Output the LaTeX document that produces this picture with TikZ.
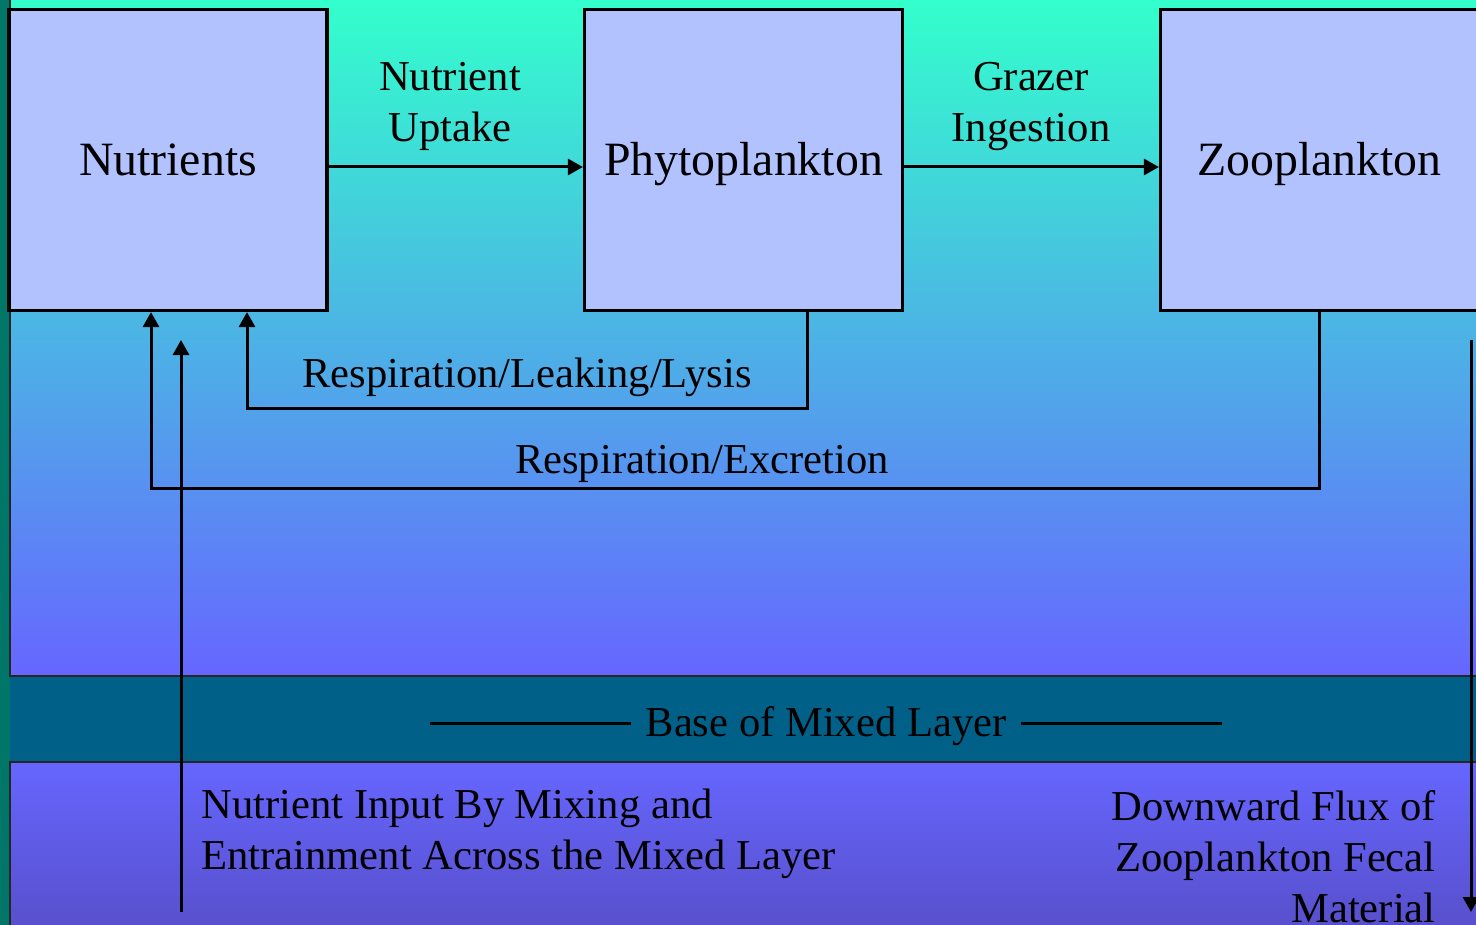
\documentclass[tikz,border=0pt]{standalone}
\usepackage{fontspec}
\setmainfont{Liberation Serif}
\usetikzlibrary{arrows.meta}
\definecolor{topc}{RGB}{51,255,204}
\definecolor{midc}{RGB}{102,102,255}
\definecolor{botc}{RGB}{88,80,204}
\definecolor{bandc}{RGB}{0,96,136}
\definecolor{stripc}{RGB}{0,118,104}
\definecolor{boxc}{RGB}{178,194,255}
\newcommand\myBig{\fontsize{23.9}{29}\selectfont}
\newcommand\mySmall{\fontsize{21.3}{25.5}\selectfont}
\newcommand\boxtxt[1]{\raisebox{-8pt}[0pt][0pt]{#1}}
\begin{document}
\begin{tikzpicture}[x=0.5pt,y=-0.5pt,
  box/.style={draw=black, line width=1.6pt, fill=boxc, minimum width=159pt, minimum height=150.5pt, inner sep=0pt, font=\myBig},
  arr/.style={line width=1.5pt, -{Triangle[length=7.5pt,width=8pt]}},
  plain/.style={line width=1.5pt},
  lbl/.style={inner sep=0pt, font=\mySmall}]
\useasboundingbox (0,0) rectangle (1476,925);
\clip (0,0) rectangle (1476,925);
% background
\fill[stripc] (0,0) rectangle (1476,925);
\shade[top color=topc, bottom color=midc] (10,0) rectangle (1476,676);
\fill[bandc] (10,676) rectangle (1476,762);
\shade[top color=midc, bottom color=botc] (10,762) rectangle (1476,925);
\draw[line width=0.8pt, black!85] (10,0) -- (10,676) -- (1476,676);
\draw[line width=0.8pt, black!85] (10,925) -- (10,762) -- (1476,762);
% boxes
\node[box] (nutr) at (168,160) {\boxtxt{Nutrients}};
\node[box] (phyto) at (743.5,160) {\boxtxt{Phytoplankton}};
\node[box] (zoo) at (1319.5,160) {\boxtxt{Zooplankton}};
% forward arrows
\draw[arr] ([yshift=-3.5pt]nutr.east) -- ([yshift=-3.5pt]phyto.west);
\draw[arr] ([yshift=-3.5pt]phyto.east) -- ([yshift=-3.5pt]zoo.west);
\node[lbl, align=center] (uptake) at (450,106) {Nutrient\\Uptake};
\node[lbl, align=center] (grazing) at (1031,106) {Grazer\\Ingestion};
% return arrows
\draw[arr] ([xshift=31.75pt]phyto.south) -- ++(0,96) -| ([xshift=39.5pt]nutr.south);
\node[lbl] (lysis) at (527,377) {Respiration/Leaking/Lysis};
\draw[arr] (zoo.south) -- ++(0,176) -| ([xshift=-8.5pt]nutr.south);
\node[lbl] (excr) at (702,464) {Respiration/Excretion};
% vertical fluxes
\coordinate (inStart) at (181,912);
\coordinate (inEnd) at (181,340);
\draw[arr] (inStart) -- (inEnd);
\coordinate (outStart) at (1471,340);
\coordinate (outEnd) at (1471,912);
\draw[arr] (outStart) -- (outEnd);
% base of mixed layer
\node[lbl] (base) at (826,726) {Base of Mixed Layer};
\coordinate (bl) at (430,723);
\coordinate (br) at (1222,723);
\path (base.west) ++(-14,0) coordinate (bwl);
\path (base.east) ++(14,0) coordinate (bwr);
\draw[plain] (bl) -- (bl -| bwl);
\draw[plain] (br -| bwr) -- (br);
% bottom texts
\node[lbl, align=left, anchor=west] (inText) at (201,834) {Nutrient Input By Mixing and\\Entrainment Across the Mixed Layer};
\node[lbl, align=right, anchor=east] (outText) at (1436,857) {Downward Flux of\\Zooplankton Fecal\\Material};
\end{tikzpicture}
\end{document}
